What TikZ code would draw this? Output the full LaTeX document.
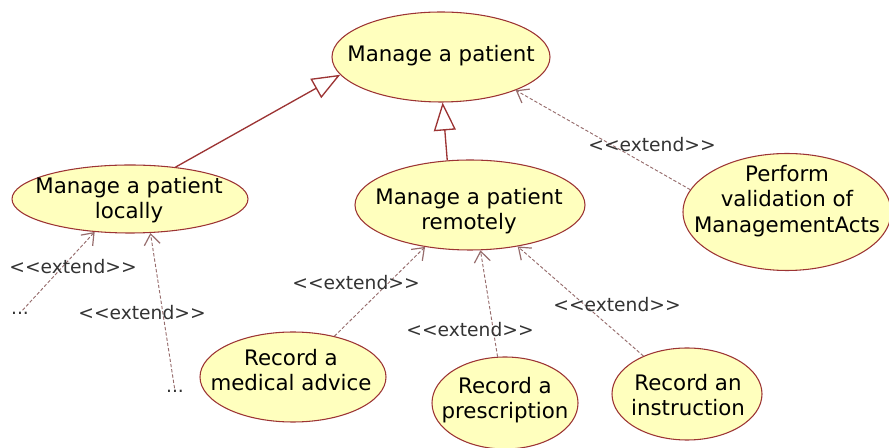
\documentclass[tikz,border=0pt]{standalone}
\usepackage{fontspec}
\setmainfont{DejaVu Sans}
\usetikzlibrary{shapes.geometric,arrows.meta}
\definecolor{ucfill}{RGB}{255,255,190}
\definecolor{ucline}{RGB}{156,52,52}
\definecolor{extline}{RGB}{150,108,108}

\begin{document}
\begin{tikzpicture}[x=0.75pt,y=-0.75pt,
  uc/.style={ellipse,draw=ucline,fill=ucfill,line width=0.8pt,inner sep=0pt},
  uctext/.style={align=center,inner sep=0pt,font=\fontsize{16}{19}\selectfont},
  gen/.style={draw=ucline,line width=1pt,-{Triangle[open,length=21pt,width=16.5pt,fill=white]}},
  ext/.style={draw=extline,line width=0.7pt,dash pattern=on 2.5pt off 1.5pt,-{Straight Barb[length=8pt,width=12pt,line width=0.9pt]}},
  lbl/.style={font=\fontsize{14}{16}\selectfont,text=black!80,inner sep=1pt}]
\useasboundingbox (0,0) rectangle (889,448);


\node[uc,minimum width=163.5pt,minimum height=67.5pt] (v1) at (441,57) {};
\node[uctext] (t1) at (441,56) {Manage a patient};

\node[uc,minimum width=177pt,minimum height=51pt] (v2) at (130,199) {};
\node[uctext] (t2) at (129,200) {Manage a patient\\locally};

\node[uc,minimum width=172.5pt,minimum height=67.5pt] (v3) at (470,205) {};
\node[uctext] (t3) at (469,211) {Manage a patient\\remotely};

\node[uc,minimum width=156pt,minimum height=87.75pt] (v4) at (787,212) {};
\node[uctext] (t4) at (787,201) {Perform\\validation of\\ManagementActs};



\node[uc,minimum width=139.5pt,minimum height=67.5pt] (v5) at (293,377) {};
\node[uctext] (t5) at (291,370) {Record a\\medical advice};
\node[uc,minimum width=109.5pt,minimum height=69pt] (v6) at (505,403) {};
\node[uctext] (t6) at (505,400) {Record a\\prescription};
\node[uc,minimum width=112.5pt,minimum height=69pt] (v7) at (687,394) {};
\node[uctext] (t7) at (688,395) {Record an\\instruction};

\node[lbl] (v8) at (20,313) {...};
\node[lbl] (v9) at (175,391) {...};


\draw[gen] (v2.35) -- (v1.190);
\draw[gen] (v3.117) -- (v1.-88);
\draw[ext] (v4.167) -- (v1.-24);
\draw[ext] (v8) -- (v2.223);
\draw[ext] (v9) -- (v2.-59);
\draw[ext] (v5) -- (v3.223);
\draw[ext] (v6) -- (v3.-77);
\draw[ext] (v7) -- (v3.-41);

\node[lbl] (e1) at (73,267) {<{}<extend>{}>};
\node[lbl] (e2) at (142,313) {<{}<extend>{}>};
\node[lbl] (e3) at (356,283) {<{}<extend>{}>};
\node[lbl] (e4) at (470,330) {<{}<extend>{}>};
\node[lbl] (e5) at (617,305) {<{}<extend>{}>};
\node[lbl] (e6) at (652,145) {<{}<extend>{}>};
\end{tikzpicture}
\end{document}
